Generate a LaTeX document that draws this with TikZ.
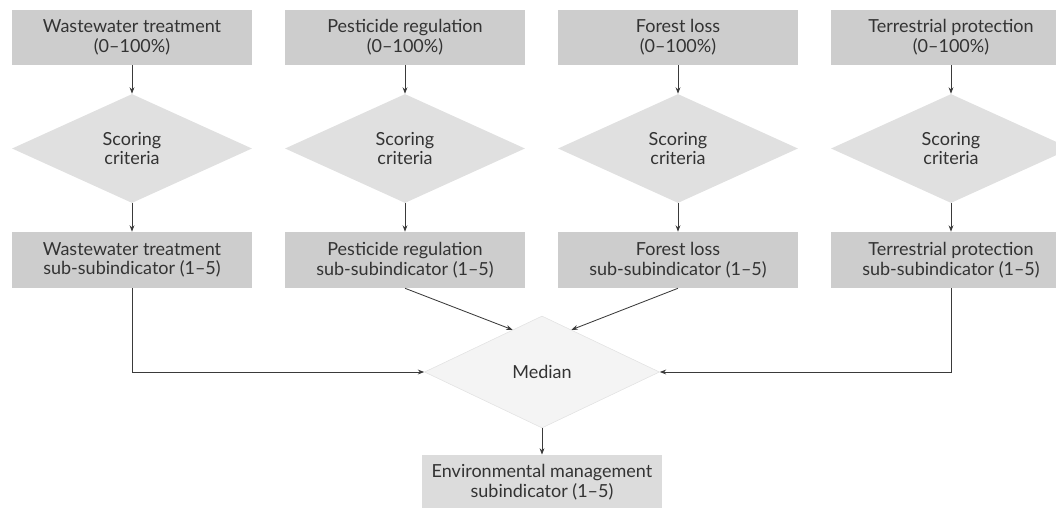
\documentclass[tikz,border=0pt]{standalone}
\usepackage{fontspec}
\setmainfont{Lato}
\usepackage{xcolor}
\usepackage{tikz}
\usetikzlibrary{arrows.meta,positioning,calc,shapes.geometric}
\definecolor{ink}{HTML}{333333}
\definecolor{wire}{HTML}{3A3A3A}
\definecolor{boxgray}{HTML}{CDCDCD}
\definecolor{diagray}{HTML}{E0E0E0}
\definecolor{medgray}{HTML}{F4F4F4}
\definecolor{medline}{HTML}{E2E2E2}
\definecolor{outgray}{HTML}{DCDCDC}
\tikzset{
  >={Stealth[length=1.6mm,width=1.2mm]},
  inbox/.style={rectangle,fill=boxgray,minimum width=6cm,minimum height=1.375cm,
    align=center,text=ink,font=\fontsize{12.8}{14}\selectfont,inner sep=0pt},
  subbox/.style={inbox,minimum height=1.4cm},
  outbox/.style={inbox,fill=outgray},
  scoring/.style={diamond,fill=diagray,minimum width=6cm,minimum height=2.725cm,
    align=center,text=ink,font=\fontsize{12.8}{14}\selectfont,inner sep=0pt},
  mediandia/.style={scoring,fill=medgray,draw=medline,line width=.4pt,
    minimum width=5.875cm,minimum height=2.8cm},
  flow/.style={->,line width=.6pt,color=wire},
}
\begin{document}
\begin{tikzpicture}
  \clip (0,0) rectangle (26.4,-12.7);
  % raw indicators
  \node[inbox] (waste) at (3.3,-0.9375) {Wastewater treatment\\(0--100\%)};
  \node[inbox] (pest) at (10.125,-0.9375) {Pesticide regulation\\(0--100\%)};
  \node[inbox] (forest) at (16.95,-0.9375) {Forest loss\\(0--100\%)};
  \node[inbox] (terr) at (23.775,-0.9375) {Terrestrial protection\\(0--100\%)};
  % scoring criteria
  \node[scoring] (scwaste) at (3.3,-3.7125) {Scoring\\criteria};
  \node[scoring] (scpest) at (10.125,-3.7125) {Scoring\\criteria};
  \node[scoring] (scforest) at (16.95,-3.7125) {Scoring\\criteria};
  \node[scoring] (scterr) at (23.775,-3.7125) {Scoring\\criteria};
  % sub-subindicators
  \node[subbox] (subwaste) at (3.3,-6.5) {Wastewater treatment\\sub-subindicator (1--5)};
  \node[subbox] (subpest) at (10.125,-6.5) {Pesticide regulation\\sub-subindicator (1--5)};
  \node[subbox] (subforest) at (16.95,-6.5) {Forest loss\\sub-subindicator (1--5)};
  \node[subbox] (subterr) at (23.775,-6.5) {Terrestrial protection\\sub-subindicator (1--5)};
  % median and result
  \node[mediandia] (median) at (13.55,-9.3) {Median};
  \node[outbox] (envman) at (13.55,-12.06) {Environmental management\\subindicator (1--5)};
  \draw[flow] (waste)--(scwaste); \draw[flow] (pest)--(scpest);
  \draw[flow] (forest)--(scforest); \draw[flow] (terr)--(scterr);
  \draw[flow] (scwaste)--(subwaste); \draw[flow] (scpest)--(subpest);
  \draw[flow] (scforest)--(subforest); \draw[flow] (scterr)--(subterr);
  \draw[flow] (subwaste.south) |- (median.west);
  \draw[flow] (subterr.south) |- (median.east);
  \draw[flow] (subpest.south) -- ($(median.west)!0.75!(median.north)$);
  \draw[flow] (subforest.south) -- ($(median.north)!0.25!(median.east)$);
  \draw[flow] (median)--(envman);
\end{tikzpicture}
\end{document}
